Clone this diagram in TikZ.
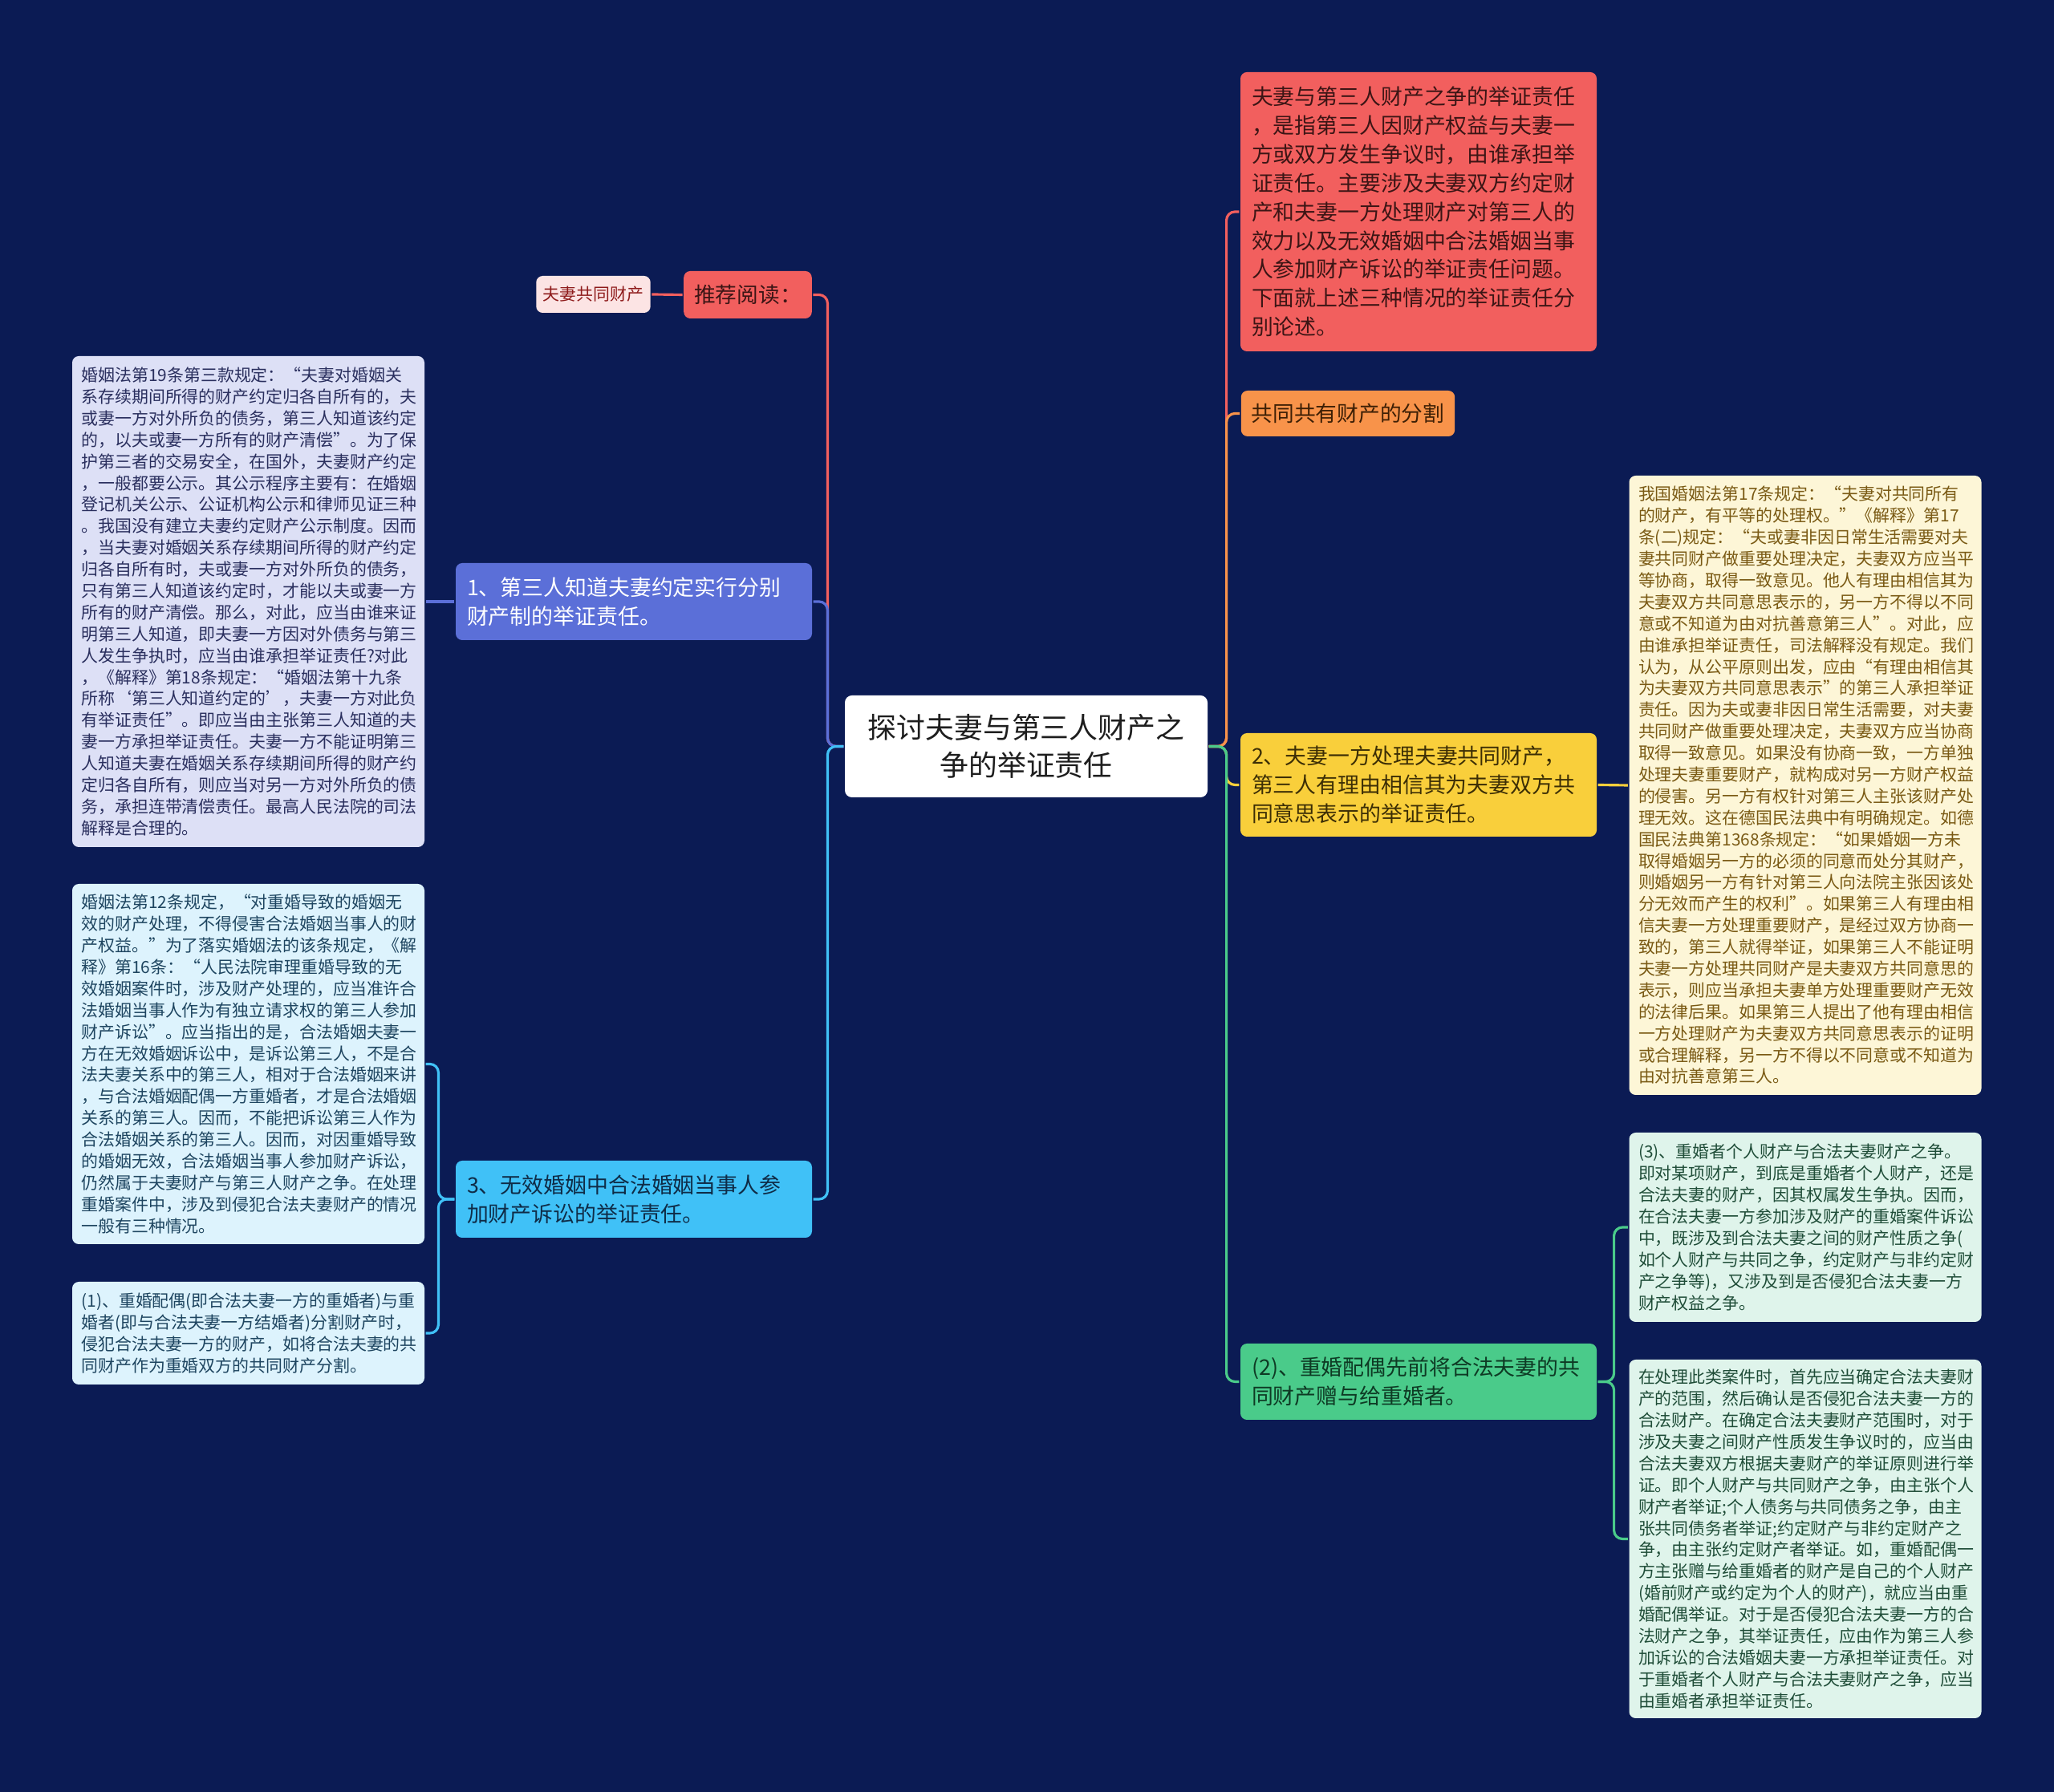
\documentclass[tikz,border=0pt]{standalone}
\usepackage{fontspec}
\setmainfont{Noto Sans CJK SC}
\usetikzlibrary{positioning, calc}
\definecolor{cbg}{HTML}{0B1B54}
\definecolor{ctopic}{HTML}{1E1E1E}
\definecolor{cred}{HTML}{F25F5E}
\definecolor{credtext}{HTML}{3C1515}
\definecolor{cpink}{HTML}{FCE4E4}
\definecolor{cpinktext}{HTML}{8E1B1B}
\definecolor{cblue}{HTML}{5B6FD8}
\definecolor{clav}{HTML}{DDE0F6}
\definecolor{clavtext}{HTML}{2A2F5E}
\definecolor{ccyan}{HTML}{40C1F7}
\definecolor{ccyantext}{HTML}{0F2C47}
\definecolor{cice}{HTML}{DDF3FD}
\definecolor{cicetext}{HTML}{1E4560}
\definecolor{corange}{HTML}{F8934A}
\definecolor{corangetext}{HTML}{3D1F05}
\definecolor{cyellow}{HTML}{F9CF3B}
\definecolor{cyellowtext}{HTML}{3C2E05}
\definecolor{ccream}{HTML}{FDF6D7}
\definecolor{ccreamtext}{HTML}{7A5A14}
\definecolor{cgreen}{HTML}{4ACB8A}
\definecolor{cgreentext}{HTML}{0E3A24}
\definecolor{cmint}{HTML}{DFF4EB}
\definecolor{cminttext}{HTML}{1F4D38}
\tikzset{
  every picture/.style={line width=0.9pt},
  topic/.style={fill=white, text=ctopic, rounded corners=2.5pt, align=center, minimum width=4.52cm, minimum height=1.27cm, font=\fontsize{10.2pt}{13.5pt}\selectfont},
  branch/.style={fill=#1, rounded corners=2.3pt, align=left, text width=4.16cm, inner xsep=0.14cm, inner ysep=0pt, font=\fontsize{7.65pt}{10.2pt}\selectfont},
  leaf/.style={fill=#1, rounded corners=2.3pt, align=left, text width=4.16cm, inner xsep=0.115cm, inner ysep=0pt, font=\fontsize{5.95pt}{7.65pt}\selectfont},
  tag/.style={fill=#1, rounded corners=2.3pt, inner xsep=0.13cm, inner ysep=0pt, font=\fontsize{7.6pt}{10.2pt}\selectfont},
  conn/.style={draw=#1, line width=0.9pt, rounded corners=3pt},
}

\begin{document}
\begin{tikzpicture}
  \useasboundingbox (0,0) rectangle (25.6,22.34);
  \fill[cbg] (0,0) rectangle (25.6,22.34);
  % centre
  \node[topic] (root) at (12.79, 13.035) {探讨夫妻与第三人财产之\\争的举证责任};
  % left side
  \node[tag=cred, text=credtext, minimum height=0.59cm] (tuijian) at (9.32, 18.665) {推荐阅读：};
  \node[tag=cpink, text=cpinktext, inner xsep=0.085cm, minimum height=0.46cm, font=\fontsize{5.95pt}{7.5pt}\selectfont] (gongtong) at (7.395, 18.67) {夫妻共同财产};
  \node[branch=cblue, text=white, minimum height=0.96cm] (b1) at (7.90, 14.84) {1、第三人知道夫妻约定实行分别\\财产制的举证责任。};
  \node[leaf=clav, text=clavtext, minimum height=6.12cm] (t1) at (3.095, 14.84) {婚姻法第19条第三款规定：“夫妻对婚姻关\\系存续期间所得的财产约定归各自所有的，夫\\或妻一方对外所负的债务，第三人知道该约定\\的，以夫或妻一方所有的财产清偿”。为了保\\护第三者的交易安全，在国外，夫妻财产约定\\，一般都要公示。其公示程序主要有：在婚姻\\登记机关公示、公证机构公示和律师见证三种\\。我国没有建立夫妻约定财产公示制度。因而\\，当夫妻对婚姻关系存续期间所得的财产约定\\归各自所有时，夫或妻一方对外所负的债务，\\只有第三人知道该约定时，才能以夫或妻一方\\所有的财产清偿。那么，对此，应当由谁来证\\明第三人知道，即夫妻一方因对外债务与第三\\人发生争执时，应当由谁承担举证责任?对此\\，《解释》第18条规定：“婚姻法第十九条\\所称‘第三人知道约定的’，夫妻一方对此负\\有举证责任”。即应当由主张第三人知道的夫\\妻一方承担举证责任。夫妻一方不能证明第三\\人知道夫妻在婚姻关系存续期间所得的财产约\\定归各自所有，则应当对另一方对外所负的债\\务，承担连带清偿责任。最高人民法院的司法\\解释是合理的。};
  \node[branch=ccyan, text=ccyantext, minimum height=0.96cm] (b3) at (7.90, 7.39) {3、无效婚姻中合法婚姻当事人参\\加财产诉讼的举证责任。};
  \node[leaf=cice, text=cicetext, minimum height=4.49cm] (t3a) at (3.095, 9.075) {婚姻法第12条规定，“对重婚导致的婚姻无\\效的财产处理，不得侵害合法婚姻当事人的财\\产权益。”为了落实婚姻法的该条规定，《解\\释》第16条：“人民法院审理重婚导致的无\\效婚姻案件时，涉及财产处理的，应当准许合\\法婚姻当事人作为有独立请求权的第三人参加\\财产诉讼”。应当指出的是，合法婚姻夫妻一\\方在无效婚姻诉讼中，是诉讼第三人，不是合\\法夫妻关系中的第三人，相对于合法婚姻来讲\\，与合法婚姻配偶一方重婚者，才是合法婚姻\\关系的第三人。因而，不能把诉讼第三人作为\\合法婚姻关系的第三人。因而，对因重婚导致\\的婚姻无效，合法婚姻当事人参加财产诉讼，\\仍然属于夫妻财产与第三人财产之争。在处理\\重婚案件中，涉及到侵犯合法夫妻财产的情况\\一般有三种情况。};
  \node[leaf=cice, text=cicetext, minimum height=1.28cm] (t3b) at (3.095, 5.72) {(1)、重婚配偶(即合法夫妻一方的重婚者)与重\\婚者(即与合法夫妻一方结婚者)分割财产时，\\侵犯合法夫妻一方的财产，如将合法夫妻的共\\同财产作为重婚双方的共同财产分割。};
  % right side
  \node[branch=cred, text=credtext, minimum height=3.48cm] (intro) at (17.68, 19.70) {夫妻与第三人财产之争的举证责任\\，是指第三人因财产权益与夫妻一\\方或双方发生争议时，由谁承担举\\证责任。主要涉及夫妻双方约定财\\产和夫妻一方处理财产对第三人的\\效力以及无效婚姻中合法婚姻当事\\人参加财产诉讼的举证责任问题。\\下面就上述三种情况的举证责任分\\别论述。};
  \node[tag=corange, text=corangetext, minimum height=0.57cm] (share) at (16.80, 17.185) {共同共有财产的分割};
  \node[branch=cyellow, text=cyellowtext, minimum height=1.29cm] (b2) at (17.68, 12.555) {2、夫妻一方处理夫妻共同财产，\\第三人有理由相信其为夫妻双方共\\同意思表示的举证责任。};
  \node[leaf=ccream, text=ccreamtext, minimum height=7.72cm] (t2) at (22.50, 12.55) {我国婚姻法第17条规定：“夫妻对共同所有\\的财产，有平等的处理权。”《解释》第17\\条(二)规定：“夫或妻非因日常生活需要对夫\\妻共同财产做重要处理决定，夫妻双方应当平\\等协商，取得一致意见。他人有理由相信其为\\夫妻双方共同意思表示的，另一方不得以不同\\意或不知道为由对抗善意第三人”。对此，应\\由谁承担举证责任，司法解释没有规定。我们\\认为，从公平原则出发，应由“有理由相信其\\为夫妻双方共同意思表示”的第三人承担举证\\责任。因为夫或妻非因日常生活需要，对夫妻\\共同财产做重要处理决定，夫妻双方应当协商\\取得一致意见。如果没有协商一致，一方单独\\处理夫妻重要财产，就构成对另一方财产权益\\的侵害。另一方有权针对第三人主张该财产处\\理无效。这在德国民法典中有明确规定。如德\\国民法典第1368条规定：“如果婚姻一方未\\取得婚姻另一方的必须的同意而处分其财产，\\则婚姻另一方有针对第三人向法院主张因该处\\分无效而产生的权利”。如果第三人有理由相\\信夫妻一方处理重要财产，是经过双方协商一\\致的，第三人就得举证，如果第三人不能证明\\夫妻一方处理共同财产是夫妻双方共同意思的\\表示，则应当承担夫妻单方处理重要财产无效\\的法律后果。如果第三人提出了他有理由相信\\一方处理财产为夫妻双方共同意思表示的证明\\或合理解释，另一方不得以不同意或不知道为\\由对抗善意第三人。};
  \node[branch=cgreen, text=cgreentext, minimum height=0.95cm] (g2) at (17.68, 5.115) {(2)、重婚配偶先前将合法夫妻的共\\同财产赠与给重婚者。};
  \node[leaf=cmint, text=cminttext, minimum height=2.36cm] (g2a) at (22.50, 7.04) {(3)、重婚者个人财产与合法夫妻财产之争。\\即对某项财产，到底是重婚者个人财产，还是\\合法夫妻的财产，因其权属发生争执。因而，\\在合法夫妻一方参加涉及财产的重婚案件诉讼\\中，既涉及到合法夫妻之间的财产性质之争(\\如个人财产与共同之争，约定财产与非约定财\\产之争等)，又涉及到是否侵犯合法夫妻一方\\财产权益之争。};
  \node[leaf=cmint, text=cminttext, minimum height=4.47cm] (g2b) at (22.50, 3.155) {在处理此类案件时，首先应当确定合法夫妻财\\产的范围，然后确认是否侵犯合法夫妻一方的\\合法财产。在确定合法夫妻财产范围时，对于\\涉及夫妻之间财产性质发生争议时的，应当由\\合法夫妻双方根据夫妻财产的举证原则进行举\\证。即个人财产与共同财产之争，由主张个人\\财产者举证;个人债务与共同债务之争，由主\\张共同债务者举证;约定财产与非约定财产之\\争，由主张约定财产者举证。如，重婚配偶一\\方主张赠与给重婚者的财产是自己的个人财产\\(婚前财产或约定为个人的财产)，就应当由重\\婚配偶举证。对于是否侵犯合法夫妻一方的合\\法财产之争，其举证责任，应由作为第三人参\\加诉讼的合法婚姻夫妻一方承担举证责任。对\\于重婚者个人财产与合法夫妻财产之争，应当\\由重婚者承担举证责任。};
  % connectors, left
  \draw[conn=cred] (root.west) -- ++(-0.2,0) |- (tuijian.east);
  \draw[conn=cblue] (root.west) -- ++(-0.2,0) |- (b1.east);
  \draw[conn=ccyan] (root.west) -- ++(-0.2,0) |- (b3.east);
  \draw[conn=cred] (tuijian.west) -- (gongtong.east);
  \draw[conn=cblue] (b1.west) -- (t1.east);
  \draw[conn=ccyan] (b3.west) -- ++(-0.2,0) |- (t3a.east);
  \draw[conn=ccyan] (b3.west) -- ++(-0.2,0) |- (t3b.east);
  % connectors, right
  \draw[conn=cred] (root.east) -- ++(0.22,0) |- (intro.west);
  \draw[conn=corange] (root.east) -- ++(0.22,0) |- (share.west);
  \draw[conn=cyellow] (root.east) -- ++(0.22,0) |- (b2.west);
  \draw[conn=cgreen] (root.east) -- ++(0.22,0) |- (g2.west);
  \draw[conn=cyellow] (b2.east) -- (t2.west);
  \draw[conn=cgreen] (g2.east) -- ++(0.2,0) |- (g2a.west);
  \draw[conn=cgreen] (g2.east) -- ++(0.2,0) |- (g2b.west);
\end{tikzpicture}
\end{document}
